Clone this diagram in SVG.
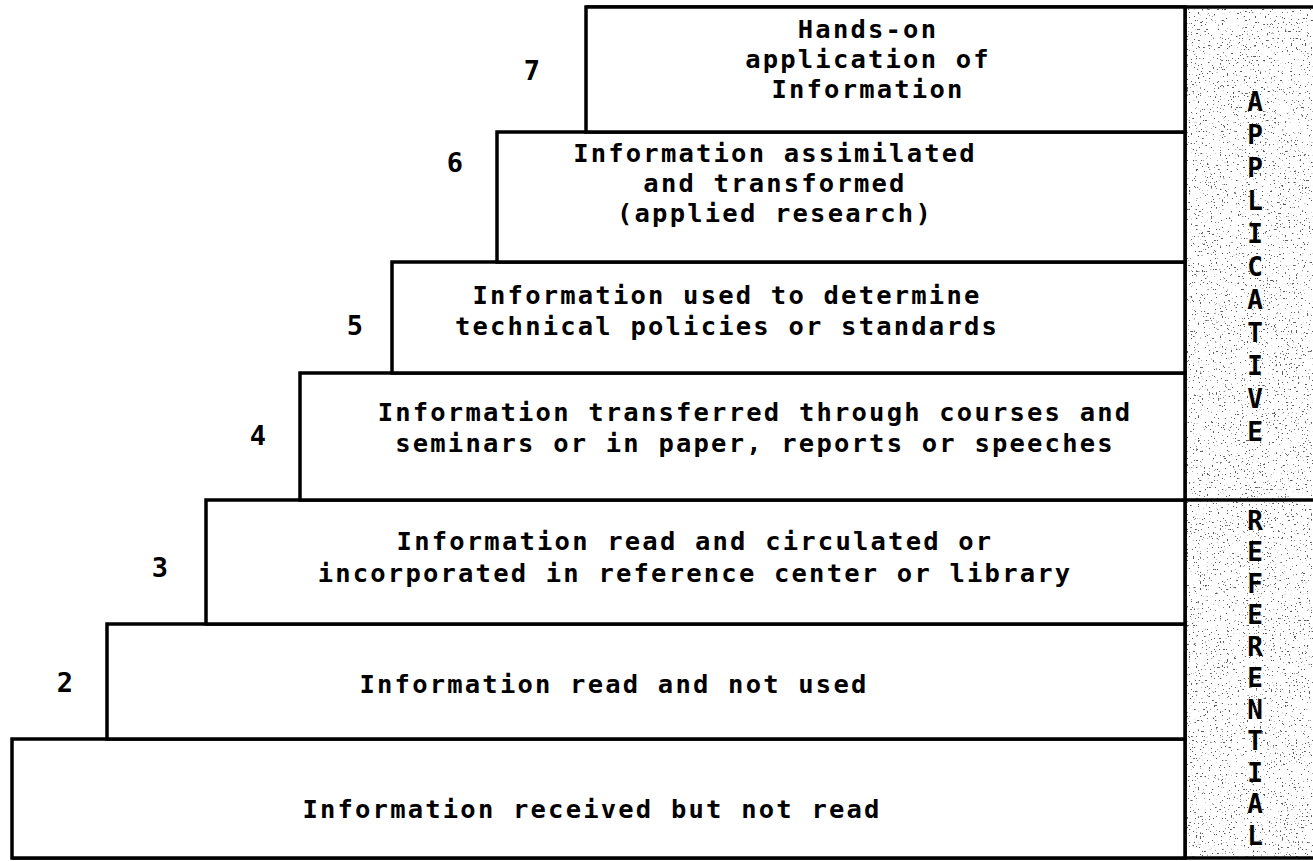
<svg xmlns="http://www.w3.org/2000/svg" width="1313" height="861" viewBox="0 0 1313 861">
<style>
  .box { fill: #fff; stroke: #000; stroke-width: 3.5; }
  .ln { stroke: #000; stroke-width: 3.5; fill: none; }
  .t { font-family: "DejaVu Sans Mono", "Liberation Mono", monospace; font-weight: bold; font-size: 25.5px; letter-spacing: 2.2px; fill: #000; text-anchor: middle; }
  .n { font-family: "DejaVu Sans Mono", "Liberation Mono", monospace; font-weight: bold; font-size: 27px; fill: #000; text-anchor: middle; }
  .s { font-family: "DejaVu Sans Mono", "Liberation Mono", monospace; font-weight: bold; font-size: 26px; fill: #000; text-anchor: middle; }
</style>
<defs>
  <filter id="stipple" x="0" y="0" width="100%" height="100%" filterUnits="objectBoundingBox">
    <feTurbulence type="fractalNoise" baseFrequency="0.55" numOctaves="2" seed="11" result="noise"/>
    <feColorMatrix in="noise" type="matrix" values="0 0 0 0 0.1  0 0 0 0 0.1  0 0 0 0 0.1  18 0 0 0 -12.2"/>
  </filter>
</defs>
<rect x="0" y="0" width="1313" height="861" fill="#fff"/>

<g id="panel">
  <rect x="1185" y="7" width="128" height="851" fill="#fff" filter="url(#stipple)"/>
  <line class="ln" x1="586" y1="7" x2="1313" y2="7"/>
  <line class="ln" x1="1185" y1="7" x2="1185" y2="858"/>
  <line class="ln" x1="1185" y1="500" x2="1313" y2="500"/>
  <line class="ln" x1="12" y1="858" x2="1313" y2="858"/>
</g>

<g id="applicative">
  <text class="s" x="1255" y="111">A</text>
  <text class="s" x="1255" y="144">P</text>
  <text class="s" x="1255" y="177">P</text>
  <text class="s" x="1255" y="210">L</text>
  <text class="s" x="1255" y="243">I</text>
  <text class="s" x="1255" y="276">C</text>
  <text class="s" x="1255" y="309">A</text>
  <text class="s" x="1255" y="342">T</text>
  <text class="s" x="1255" y="375">I</text>
  <text class="s" x="1255" y="408">V</text>
  <text class="s" x="1255" y="441">E</text>
</g>

<g id="referential">
  <text class="s" x="1255" y="530">R</text>
  <text class="s" x="1255" y="561">E</text>
  <text class="s" x="1255" y="593">F</text>
  <text class="s" x="1255" y="624">E</text>
  <text class="s" x="1255" y="656">R</text>
  <text class="s" x="1255" y="687">E</text>
  <text class="s" x="1255" y="719">N</text>
  <text class="s" x="1255" y="750">T</text>
  <text class="s" x="1255" y="782">I</text>
  <text class="s" x="1255" y="813">A</text>
  <text class="s" x="1255" y="845">L</text>
</g>

<g id="step1">
  <rect class="box" x="12" y="739" width="1173" height="119"/>
  <text class="t" x="592" y="818">Information received but not read</text>
</g>

<g id="step2">
  <rect class="box" x="107" y="624" width="1078" height="115"/>
  <text class="t" x="614" y="693">Information read and not used</text>
  <text class="n" x="65" y="692">2</text>
</g>

<g id="step3">
  <rect class="box" x="206" y="500" width="979" height="124"/>
  <text class="t" x="695" y="550">Information read and circulated or</text>
  <text class="t" x="695" y="582">incorporated in reference center or library</text>
  <text class="n" x="160" y="577">3</text>
</g>

<g id="step4">
  <rect class="box" x="300" y="373" width="885" height="127"/>
  <text class="t" x="755" y="421">Information transferred through courses and</text>
  <text class="t" x="755" y="452">seminars or in paper, reports or speeches</text>
  <text class="n" x="258" y="445">4</text>
</g>

<g id="step5">
  <rect class="box" x="392" y="262" width="793" height="111"/>
  <text class="t" x="727" y="304">Information used to determine</text>
  <text class="t" x="727" y="335">technical policies or standards</text>
  <text class="n" x="355" y="335">5</text>
</g>

<g id="step6">
  <rect class="box" x="497" y="132" width="688" height="130"/>
  <text class="t" x="775" y="162">Information assimilated</text>
  <text class="t" x="775" y="192">and transformed</text>
  <text class="t" x="775" y="222">(applied research)</text>
  <text class="n" x="455" y="172">6</text>
</g>

<g id="step7">
  <rect class="box" x="586" y="7" width="599" height="125"/>
  <text class="t" x="868" y="38">Hands-on</text>
  <text class="t" x="868" y="68">application of</text>
  <text class="t" x="868" y="98">Information</text>
  <text class="n" x="532" y="80">7</text>
</g>

<g id="connectors"></g>
</svg>
